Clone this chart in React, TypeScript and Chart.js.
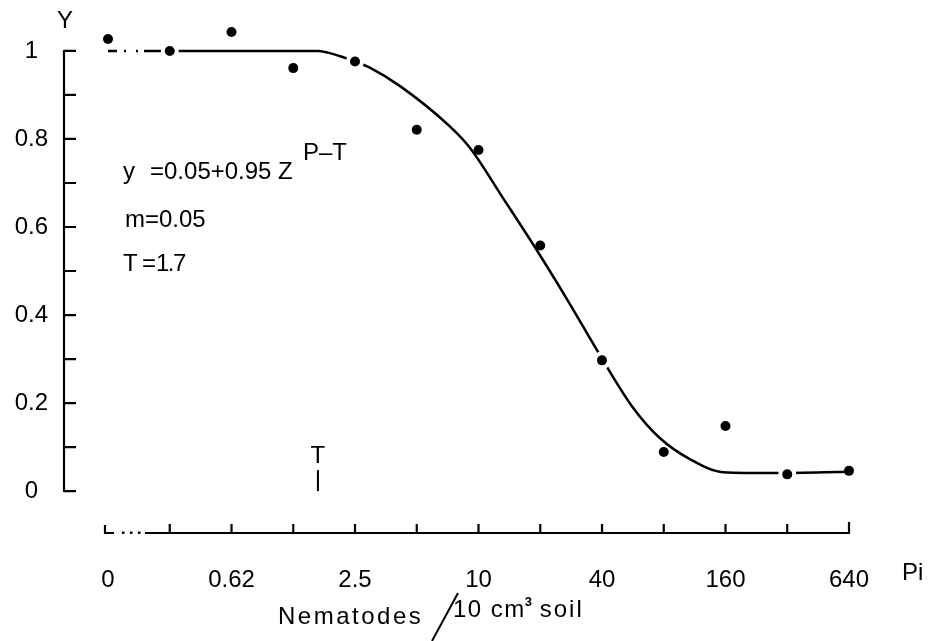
import React, { useEffect, useRef } from 'react';
import { Chart, registerables } from 'chart.js';

Chart.register(...registerables);

// Nematode densities (Pi) at each doubling step of the x axis; index 0 is the control "0"
const densities = ['0', '0.31', '0.62', '1.25', '2.5', '5', '10', '20', '40', '80', '160', '320', '640'];
// Observed relative yield Y at each density
const observedY = [1.027, 1.0, 1.043, 0.961, 0.976, 0.821, 0.775, 0.558, 0.297, 0.089, 0.148, 0.038, 0.046];
// Observed points that the fitted curve runs through (drawn with a gap in the line)
const onCurvePoints = [1, 4, 8, 11];
// Fitted curve (x in density steps, y relative yield)
const curveX = [0, 1, 3.4, 3.76, 4.02, 4.24, 4.73, 5.54, 5.86, 6.4, 6.95, 7.48, 7.94, 8.5, 8.94, 9.43, 9.96, 10.83, 12];
const curveY = [1, 1, 1, 0.988, 0.975, 0.962, 0.92, 0.828, 0.78, 0.665, 0.546, 0.425, 0.315, 0.19, 0.12, 0.072, 0.043, 0.041, 0.044];
// Y axis ticks
const yTickValues = [0, 0.1, 0.2, 0.3, 0.4, 0.5, 0.6, 0.7, 0.8, 0.9, 1];
const yTickLabels = ['0', '', '0.2', '', '0.4', '', '0.6', '', '0.8', '', '1'];
// Tolerance limit T marker position (density step)
const tMarkerStep = 3.4;
// Texts
const formulaMain = '=0.05+0.95 Z';
const formulaExp = 'P–T';
const mText = 'm=0.05';
const tValue = '1.7';
const xTitleLeft = 'Nematodes';
const xTitleRight = '10 cm';
const xTitleSup = '3';
const xTitleEnd = ' soil';
const xUnit = 'Pi';
const yTitle = 'Y';

const FONT = "'Liberation Sans', Arial, Helvetica, sans-serif";

const paperPlugin = {
  id: 'paperAxes',
  afterDraw(chart: any) {
    const { ctx, chartArea, scales } = chart;
    const x = scales.x;
    const y = scales.y;
    ctx.save();
    ctx.strokeStyle = '#000';
    ctx.fillStyle = '#000';
    ctx.lineWidth = 2.2;
    ctx.lineCap = 'butt';

    // Y axis with inward ticks
    const ax = chartArea.left;
    const y0 = y.getPixelForValue(0);
    const y1 = y.getPixelForValue(1);
    ctx.beginPath();
    ctx.moveTo(ax, y1 - 1);
    ctx.lineTo(ax, y0 + 1);
    yTickValues.forEach((v) => {
      const py = y.getPixelForValue(v);
      ctx.moveTo(ax, py);
      ctx.lineTo(ax + 12, py);
    });
    ctx.stroke();

    // X axis (separate, below), with upward ticks
    const by = chartArea.bottom;
    const x0 = x.getPixelForValue(0);
    const xEnd = x.getPixelForValue(densities.length - 1);
    ctx.beginPath();
    ctx.moveTo(x0 - 3, by - 8);
    ctx.lineTo(x0 - 3, by);
    ctx.lineTo(x0 + 6, by);
    ctx.moveTo(x0 + 37, by);
    ctx.lineTo(xEnd + 1, by);
    for (let i = 1; i < densities.length; i++) {
      const px = x.getPixelForValue(i);
      ctx.moveTo(px, by);
      ctx.lineTo(px, by - (i === densities.length - 1 ? 11 : 9));
    }
    ctx.stroke();
    [14, 22, 30].forEach((d) => {
      ctx.fillRect(x0 + d, by - 1.5, 2.5, 2.5);
    });

    // T marker
    const tx = x.getPixelForValue(tMarkerStep);
    ctx.font = `24px ${FONT}`;
    ctx.textAlign = 'center';
    ctx.textBaseline = 'alphabetic';
    ctx.fillText('T', tx, y0 - 28);
    ctx.beginPath();
    ctx.lineWidth = 2;
    ctx.moveTo(tx, y0 - 21);
    ctx.lineTo(tx, y0);
    ctx.stroke();

    // Y title
    ctx.textAlign = 'center';
    ctx.fillText(yTitle, ax + 1, y1 - 23);

    // Formula block
    ctx.textAlign = 'left';
    ctx.fillText('y', 123, 179);
    ctx.fillText(formulaMain, 150, 179);
    ctx.fillText(formulaExp, 303, 160);
    ctx.fillText(mText, 125, 227);
    ctx.fillText('T', 123, 271);
    ctx.fillText('=', 142, 271);
    (ctx as any).letterSpacing = '-1.5px';
    ctx.fillText(tValue, 156, 271);
    (ctx as any).letterSpacing = '0px';

    // X unit label
    ctx.textBaseline = 'middle';
    ctx.fillText(xUnit, 902, 573);

    // X axis title
    ctx.textBaseline = 'alphabetic';
    (ctx as any).letterSpacing = '2.5px';
    ctx.fillText(xTitleLeft, 278, 624);
    (ctx as any).letterSpacing = '1.5px';
    ctx.fillText(xTitleRight, 453, 617);
    const w1 = ctx.measureText(xTitleRight).width;
    ctx.font = `bold 13px ${FONT}`;
    (ctx as any).letterSpacing = '0px';
    ctx.fillText(xTitleSup, 453 + w1 - 1, 606);
    const w2 = ctx.measureText(xTitleSup).width;
    ctx.font = `24px ${FONT}`;
    (ctx as any).letterSpacing = '2px';
    ctx.fillText(xTitleEnd, 453 + w1 + w2 - 2, 617);
    (ctx as any).letterSpacing = '0px';

    ctx.beginPath();
    ctx.lineWidth = 2;
    ctx.moveTo(432, 641);
    ctx.lineTo(458, 593);
    ctx.stroke();

    ctx.restore();
  },
};

export default function App() {
  const ref = useRef<HTMLCanvasElement>(null);

  useEffect(() => {
    const canvas = ref.current;
    if (!canvas) return;
    Chart.defaults.font.family = FONT;
    Chart.defaults.color = '#000';

    const chart = new Chart(canvas, {
      type: 'scatter',
      data: {
        datasets: [
          {
            type: 'scatter',
            label: 'observed',
            data: observedY.map((v, i) => ({ x: i, y: v })),
            pointRadius: (c: any) => (onCurvePoints.includes(c.dataIndex) ? 7 : 5),
            pointBorderWidth: (c: any) => (onCurvePoints.includes(c.dataIndex) ? 4 : 0),
            pointBackgroundColor: '#000',
            pointBorderColor: '#fff',
            pointHoverRadius: 0,
            clip: false,
            order: 0,
          } as any,
          {
            type: 'line',
            label: 'fit',
            data: curveX.map((v, i) => ({ x: v, y: curveY[i] })),
            borderColor: '#000',
            borderWidth: 2.5,
            pointRadius: 0,
            fill: false,
            cubicInterpolationMode: 'monotone',
            clip: false,
            order: 1,
            segment: {
              borderDash: (c: any) => (c.p0DataIndex === 0 ? [9, 7, 2, 10, 2, 6, 30, 10] : undefined),
            },
          } as any,
        ],
      },
      options: {
        animation: false,
        responsive: false,
        events: [],
        layout: { padding: { top: 5.9, right: 52, left: 0, bottom: 0 } },
        plugins: {
          legend: { display: false },
          tooltip: { enabled: false },
        },
        scales: {
          x: {
            type: 'linear',
            min: -0.7126,
            max: 12.502,
            grid: { display: false },
            border: { display: false },
            afterBuildTicks: (axis: any) => {
              axis.ticks = densities.map((_, i) => ({ value: i }));
            },
            afterFit: (axis: any) => {
              axis.height = 108;
              axis.paddingLeft = 0;
              axis.paddingRight = 0;
              axis.paddingTop = 0;
              axis.paddingBottom = 0;
            },
            ticks: {
              autoSkip: false,
              maxRotation: 0,
              padding: 25,
              font: { size: 24, family: FONT },
              color: '#000',
              callback: (_v: any, i: number) => (i % 2 === 0 ? densities[i] : ''),
            },
          },
          y: {
            type: 'linear',
            min: -0.0952,
            max: 1.0907,
            grid: { display: false },
            border: { display: false },
            afterBuildTicks: (axis: any) => {
              axis.ticks = yTickValues.map((v) => ({ value: v }));
            },
            afterFit: (axis: any) => {
              axis.width = 64;
              axis.paddingLeft = 0;
              axis.paddingRight = 0;
              axis.paddingTop = 0;
              axis.paddingBottom = 0;
            },
            ticks: {
              autoSkip: false,
              padding: 8,
              crossAlign: 'center',
              font: { size: 24, family: FONT },
              color: '#000',
              callback: (_v: any, i: number) => yTickLabels[i],
            },
          },
        },
      } as any,
      plugins: [paperPlugin],
    });

    return () => chart.destroy();
  }, []);

  return (
    <canvas
      ref={ref}
      width={932}
      height={641}
      style={{ position: 'fixed', left: 0, top: 0, display: 'block', background: '#fff' }}
    />
  );
}
